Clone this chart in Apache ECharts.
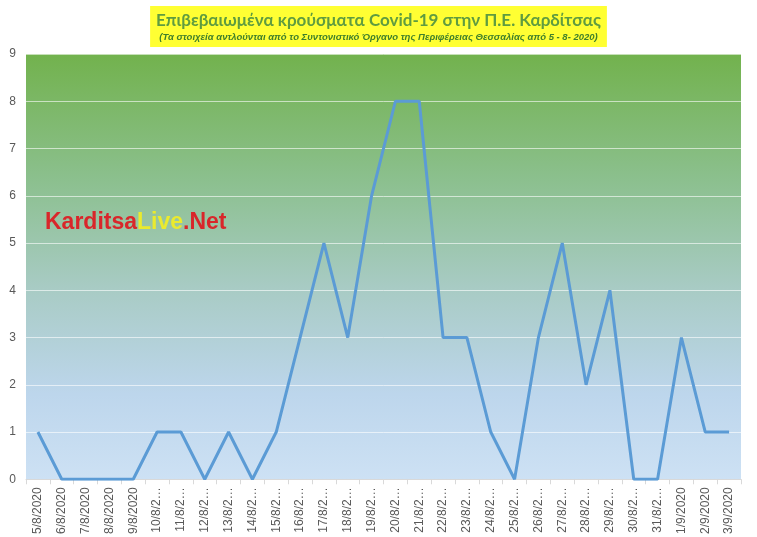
<!DOCTYPE html>
<html><head><meta charset="utf-8">
<script src="https://cdn.jsdelivr.net/npm/echarts@6/dist/echarts.min.js"></script>
<style>html,body{margin:0;padding:0;background:#fff}#c{width:757px;height:537px}</style>
</head><body><div id="c"></div>
<script>
var categories = ["5/8/2020","6/8/2020","7/8/2020","8/8/2020","9/8/2020","10/8/2020","11/8/2020","12/8/2020","13/8/2020","14/8/2020","15/8/2020","16/8/2020","17/8/2020","18/8/2020","19/8/2020","20/8/2020","21/8/2020","22/8/2020","23/8/2020","24/8/2020","25/8/2020","26/8/2020","27/8/2020","28/8/2020","29/8/2020","30/8/2020","31/8/2020","1/9/2020","2/9/2020","3/9/2020"];
var cases = [1,0,0,0,0,1,1,0,1,0,1,3,5,3,6,8,8,3,3,1,0,3,5,2,4,0,0,3,1,1];
var yTicks = [0,1,2,3,4,5,6,7,8,9];
var titleText = "Επιβεβαιωμένα κρούσματα Covid-19 στην Π.Ε. Καρδίτσας";
var subText = "(Τα στοιχεία αντλούνται από το Συντονιστικό Όργανο της Περιφέρειας Θεσσαλίας από 5 - 8- 2020)";

var chart = echarts.init(document.getElementById('c'));
chart.setOption({
  backgroundColor: '#fff',
  animation: false,
  title: {
    text: titleText,
    subtext: subText,
    left: 'center',
    top: 6,
    backgroundColor: '#ffff33',
    padding: [6, 6, 5, 6],
    itemGap: 3,
    textStyle: {color: '#5f9c40', fontSize: 17, fontWeight: 'bold', fontFamily: 'Lato'},
    subtextStyle: {color: '#3f7f2b', fontSize: 9.5, fontWeight: 'bold', fontStyle: 'italic', fontFamily: 'Liberation Sans'}
  },
  grid: {left: 26, right: 16, top: 54, bottom: 57, show: true, borderWidth: 0,
    backgroundColor: {type: 'linear', x: 0, y: 0, x2: 0, y2: 1, colorStops: [
      {offset: 0, color: '#72b24d'},
      {offset: 0.3, color: '#8cc08f'},
      {offset: 0.55, color: '#a8cbc4'},
      {offset: 0.8, color: '#bdd6ec'},
      {offset: 1, color: '#cde1f4'}
    ]}},
  xAxis: {
    type: 'category', data: categories, boundaryGap: true,
    axisLine: {lineStyle: {color: '#d9d9d9'}},
    axisTick: {show: true, interval: 0, length: 5, lineStyle: {color: '#d9d9d9'}},
    axisLabel: {interval: 0, rotate: 90, color: '#595959', fontSize: 12, fontFamily: 'Liberation Sans', margin: 8,
      formatter: function (v) { return v.length > 8 ? v.slice(0, 6) + '…' : v; }}
  },
  yAxis: {
    type: 'value', min: yTicks[0], max: yTicks[yTicks.length - 1], interval: 1,
    axisLine: {show: false}, axisTick: {show: false},
    splitLine: {lineStyle: {color: 'rgba(255,255,255,0.6)', width: 1}},
    axisLabel: {color: '#595959', fontSize: 12, fontFamily: 'Liberation Sans', margin: 10}
  },
  series: [{
    type: 'line', data: cases, symbol: 'none',
    lineStyle: {color: '#5b9bd5', width: 3}
  }],
  graphic: [{
    type: 'text', left: 45, top: 211,
    style: {
      text: '{r|Karditsa}{y|Live}{r|.Net}',
      rich: {
        r: {fill: '#d9262a', fontSize: 23, fontWeight: 'bold', fontFamily: 'Liberation Sans'},
        y: {fill: '#eaea2e', fontSize: 23, fontWeight: 'bold', fontFamily: 'Liberation Sans'}
      }
    }
  }]
});
</script></body></html>
